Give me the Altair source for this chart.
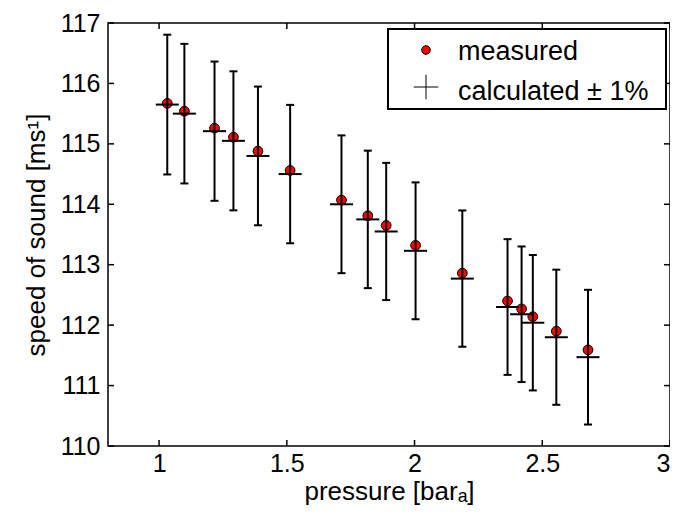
import altair as alt
import pandas as pd

# ---- data ----
pressure = [1.032, 1.099, 1.217, 1.291, 1.387, 1.513, 1.714, 1.817, 1.889,
            2.004, 2.187, 2.364, 2.419, 2.463, 2.555, 2.679]
measured = [115.67, 115.54, 115.26, 115.11, 114.88, 114.56, 114.07, 113.81, 113.65,
            113.32, 112.86, 112.40, 112.27, 112.14, 111.90, 111.59]
calculated = [115.65, 115.50, 115.21, 115.05, 114.80, 114.50, 114.00, 113.75, 113.55,
              113.23, 112.77, 112.30, 112.18, 112.04, 111.80, 111.47]
x_ticks = [1, 1.5, 2, 2.5, 3]
y_ticks = [110, 111, 112, 113, 114, 115, 116, 117]
legend_labels = ["measured", "calculated \u00b1 1%"]
x_title = "pressure [bar\u2090]"
y_title = "speed of sound [ms\u00b9]"

df = pd.DataFrame({"pressure": pressure, "measured": measured, "calculated": calculated})
df["lo"] = df["calculated"] * 0.99
df["hi"] = df["calculated"] * 1.01

W, H = 562, 423
FONT = "Liberation Sans"
xs = alt.Scale(domain=[0.8, 3], nice=False, zero=False)
ys = alt.Scale(domain=[110, 117], nice=False, zero=False)
xax = alt.Axis(values=x_ticks, format="~g", title=x_title, labelPadding=5, titlePadding=2,
               labelFlush=True)
yax = alt.Axis(values=y_ticks, title=y_title, labelPadding=8, titlePadding=11)


def X(f):
    return alt.X(f, scale=xs, axis=xax)


def Y(f):
    return alt.Y(f, scale=ys, axis=yax)


base = alt.Chart(df)

points = base.mark_circle(fill="red", stroke="black", strokeWidth=1, size=95, opacity=1).encode(
    x=X("pressure:Q"), y=Y("measured:Q"))

errbars = base.mark_rule(color="black", strokeWidth=2).encode(
    x=X("pressure:Q"), y=Y("lo:Q"), y2="hi:Q")
cap_lo = base.mark_tick(orient="horizontal", size=8, thickness=2, color="black", opacity=1).encode(
    x=X("pressure:Q"), y=Y("lo:Q"))
cap_hi = base.mark_tick(orient="horizontal", size=8, thickness=2, color="black", opacity=1).encode(
    x=X("pressure:Q"), y=Y("hi:Q"))
calc = base.mark_tick(orient="horizontal", size=23, thickness=2, color="black", opacity=1).encode(
    x=X("pressure:Q"), y=Y("calculated:Q"))

# inward ticks on all four sides
xt = alt.Chart(pd.DataFrame({"v": x_ticks}))
yt = alt.Chart(pd.DataFrame({"v": y_ticks}))
tk = dict(color="black", strokeWidth=1.5)
xt_bottom = xt.mark_rule(**tk).encode(x=X("v:Q"), y=alt.value(H), y2=alt.value(H - 6))
xt_top = xt.mark_rule(**tk).encode(x=X("v:Q"), y=alt.value(0), y2=alt.value(6))
yt_left = yt.mark_rule(**tk).encode(y=Y("v:Q"), x=alt.value(0), x2=alt.value(6))
yt_right = yt.mark_rule(**tk).encode(y=Y("v:Q"), x=alt.value(W - 6), x2=alt.value(W))

# legend
one = alt.Chart(pd.DataFrame({"k": [0]}))
leg_box = one.mark_rect(fill="white", stroke="black", strokeWidth=2).encode(
    x=alt.value(280), x2=alt.value(558), y=alt.value(6), y2=alt.value(86))
leg_dot = one.mark_circle(fill="red", stroke="black", strokeWidth=1, size=75, opacity=1).encode(
    x=alt.value(318), y=alt.value(27))
leg_cross = one.mark_point(shape="M-1,0H1M0,-1V1", size=600, filled=False, stroke="black",
                           strokeWidth=1, opacity=1).encode(x=alt.value(318), y=alt.value(64))
leg_t1 = one.mark_text(align="left", baseline="alphabetic", font=FONT, fontSize=27, color="black").encode(
    x=alt.value(350), y=alt.value(37), text=alt.value(legend_labels[0]))
leg_t2 = one.mark_text(align="left", baseline="alphabetic", font=FONT, fontSize=27, color="black").encode(
    x=alt.value(350), y=alt.value(77), text=alt.value(legend_labels[1]))

chart = alt.layer(
    points, errbars, cap_lo, cap_hi, calc,
    xt_bottom, xt_top, yt_left, yt_right,
    leg_box, leg_dot, leg_cross, leg_t1, leg_t2,
).properties(
    width=W, height=H,
    autosize="none",
    padding={"left": 100, "top": 15, "right": 0, "bottom": 63},
    background="white",
).configure_view(
    stroke="black", strokeWidth=1.5
).configure_axis(
    domain=False, ticks=False, grid=False,
    labelFont=FONT, labelFontSize=25, labelColor="black",
    titleFont=FONT, titleFontSize=26, titleColor="black", titleFontWeight="normal",
)

chart.save("out.html", embed_options={"renderer": "svg", "actions": False})
